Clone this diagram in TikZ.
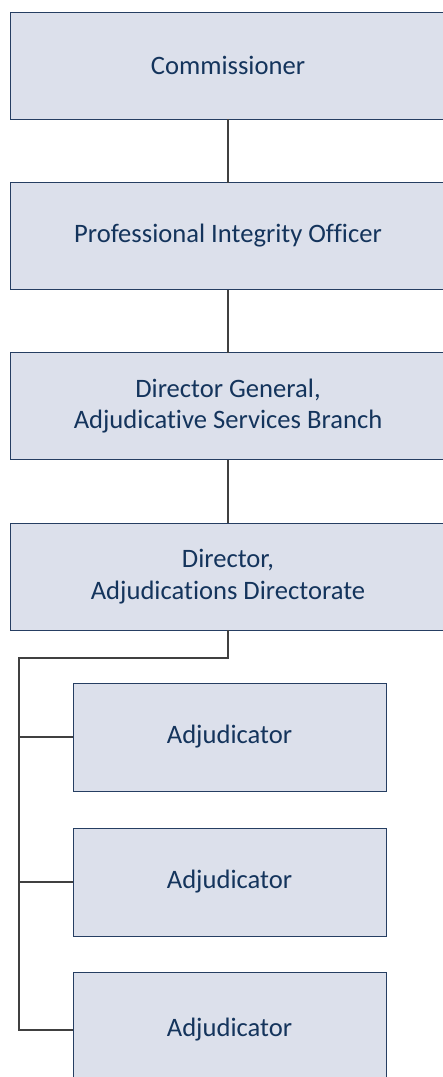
\documentclass[tikz,border=0pt]{standalone}
\usepackage{fontspec}
\setmainfont[Ligatures=NoCommon]{Carlito}
\definecolor{boxfill}{RGB}{220,224,235}
\definecolor{boxline}{RGB}{38,62,98}
\definecolor{boxtext}{RGB}{20,52,92}
\definecolor{wire}{RGB}{64,64,64}
\begin{document}
\begin{tikzpicture}[x=1pt,y=-1pt,
  orgbox/.style={draw=boxline, line width=1pt, fill=boxfill, text=boxtext,
    rectangle, inner sep=0pt, outer sep=0pt, align=center,
    font=\fontsize{26.6}{31.7}\selectfont},
  topbox/.style={orgbox, minimum width=436pt, minimum height=107pt},
  staffbox/.style={orgbox, minimum width=313pt, minimum height=108pt},
  wireline/.style={draw=wire, line width=1.1pt}]
\useasboundingbox (0,0) rectangle (443,1077);
\clip (0,0) rectangle (443,1077);

% reporting chain
\node[topbox] (comm) at (228,65.5) {Commissioner};
\node[topbox] (pio)  at (228,236)  {Professional Integrity Officer};
\node[topbox] (dg)   at (228,406)  {Director General,\\Adjudicative Services Branch};
\node[topbox] (dir)  at (228,576.5){Director,\\Adjudications Directorate};

% adjudicators
\node[staffbox] (adj1) at (229.5,737) {Adjudicator};
\node[staffbox] (adj2) at (229.5,882) {Adjudicator};
\node[staffbox, minimum height=116pt] (adj3) at (229.5,1030) {Adjudicator};

% connectors
\draw[wireline] (comm.south) -- (pio.north);
\draw[wireline] (pio.south) -- (dg.north);
\draw[wireline] (dg.south) -- (dir.north);

\coordinate (bus) at (19,658);
\draw[wireline] (dir.south) |- (bus) -- (bus |- adj3.west) -- (adj3.west);
\draw[wireline] (bus |- adj1.west) -- (adj1.west);
\draw[wireline] (bus |- adj2.west) -- (adj2.west);
\end{tikzpicture}
\end{document}
